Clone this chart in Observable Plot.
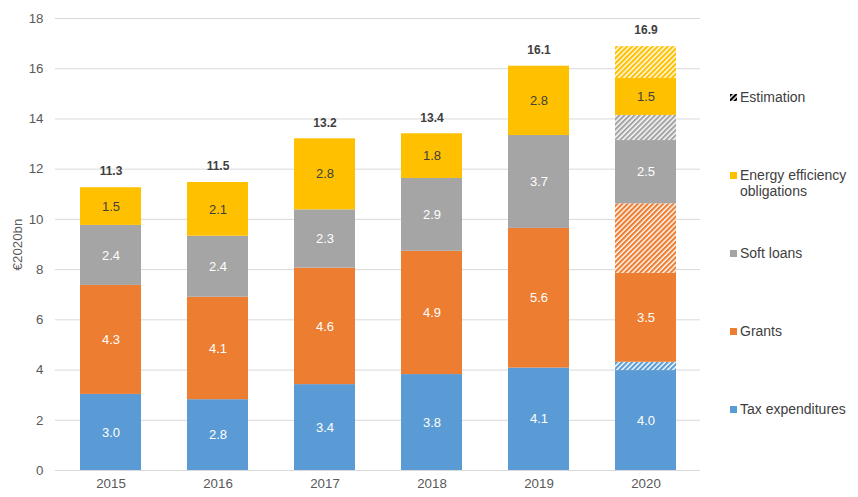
<!DOCTYPE html>
<html>
<head>
<meta charset="utf-8">
<script src="https://cdn.jsdelivr.net/npm/d3@7"></script>
<script src="https://cdn.jsdelivr.net/npm/@observablehq/plot@0.6"></script>
<style>
  html, body { margin: 0; padding: 0; background: #fff; }
  body { width: 858px; height: 497px; position: relative; font-family: "Liberation Sans", Arial, sans-serif; overflow: hidden; }
  #chart { position: absolute; left: 0; top: 0; }
  .legend { position: absolute; left: 730px; top: 0; font-size: 14px; color: #404040; line-height: 16px; }
  .legend .item { position: absolute; left: 0; white-space: nowrap; }
  .legend .sw { position: absolute; left: 0; top: 5px; width: 7px; height: 7px; }
  .legend .lbl { position: absolute; left: 10px; top: 0; }
</style>
</head>
<body>
<div id="chart"></div>
<div class="legend" id="legend"></div>
<script>
// ---- data (€2020bn) ----
const years = ["2015", "2016", "2017", "2018", "2019", "2020"];
const taxExpenditures = [3.03, 2.82, 3.42, 3.82, 4.08, 3.98];
const taxEstimation   = [0, 0, 0, 0, 0, 0.33];
const grants          = [4.34, 4.08, 4.64, 4.91, 5.56, 3.54];
const grantsEstimation= [0, 0, 0, 0, 0, 2.77];
const softLoans       = [2.39, 2.43, 2.32, 2.90, 3.70, 2.52];
const softEstimation  = [0, 0, 0, 0, 0, 1.00];
const eeo             = [1.50, 2.14, 2.83, 1.78, 2.76, 1.47];
const eeoEstimation   = [0, 0, 0, 0, 0, 1.27];
const totals          = [11.3, 11.5, 13.2, 13.4, 16.1, 16.9];
const yTicks = [0, 2, 4, 6, 8, 10, 12, 14, 16, 18];

const seriesDefs = [
  {key: "tax",        values: taxExpenditures,  est: false, color: "#5B9BD5", textColor: "#ffffff"},
  {key: "tax-est",    values: taxEstimation,    est: true,  color: "url(#h-tax)"},
  {key: "grants",     values: grants,           est: false, color: "#ED7D31", textColor: "#ffffff"},
  {key: "grants-est", values: grantsEstimation, est: true,  color: "url(#h-grants)"},
  {key: "soft",       values: softLoans,        est: false, color: "#A5A5A5", textColor: "#ffffff"},
  {key: "soft-est",   values: softEstimation,   est: true,  color: "url(#h-soft)"},
  {key: "eeo",        values: eeo,              est: false, color: "#FFC000", textColor: "#404040"},
  {key: "eeo-est",    values: eeoEstimation,    est: true,  color: "url(#h-eeo)"}
];

const rows = [];
for (const s of seriesDefs) {
  years.forEach((yr, i) => {
    rows.push({year: yr, key: s.key, value: s.values[i], est: s.est, textColor: s.textColor || "#fff"});
  });
}
const totalRows = years.map((yr, i) => ({year: yr, total: totals[i]}));
const order = seriesDefs.map(s => s.key);

const font = '"Liberation Sans", Arial, sans-serif';

const plot = Plot.plot({
  width: 715,
  height: 497,
  marginLeft: 55,
  marginRight: 15,
  marginTop: 18,
  marginBottom: 27,
  style: {fontFamily: font, fontSize: "13px", color: "#595959", background: "transparent"},
  x: {domain: years, paddingInner: 0.43, paddingOuter: 0.215, label: null},
  y: {domain: [0, 18], label: null},
  color: {domain: order, range: seriesDefs.map(s => s.color), type: "ordinal"},
  marks: [
    Plot.gridY(yTicks, {stroke: "#d9d9d9", strokeOpacity: 1}),
    Plot.axisY(yTicks, {tickSize: 0, tickPadding: 12, fill: "#595959", fontSize: 13.3,
      label: "€2020bn", labelAnchor: "center", labelArrow: "none", labelOffset: 43}),
    Plot.axisX({tickSize: 0, tickPadding: 8, fill: "#595959", fontSize: 13.3}),
    Plot.barY(rows.filter(d => d.value > 0), Plot.stackY({
      x: "year", y: "value", fill: "key", order
    })),
    Plot.text(rows.filter(d => d.value > 0), Plot.stackY({
      x: "year", y: "value", z: "key", order,
      text: d => d.est ? null : d.value.toFixed(1),
      fill: d => d.textColor, fontSize: 13
    })),
    Plot.text(totalRows, {
      x: "year", y: "total", text: d => d.total.toFixed(1), dy: -16,
      fill: "#404040", fontWeight: "bold", fontSize: 12
    })
  ]
});

// hatch patterns for the estimation segments
const defs = `
<defs>
  ${[["h-tax", "#5B9BD5"], ["h-grants", "#ED7D31"], ["h-soft", "#A5A5A5"], ["h-eeo", "#FFC000"], ["h-legend", "#000000"]].map(([id, c]) =>
    `<pattern id="${id}" patternUnits="userSpaceOnUse" width="3.6" height="3.6" patternTransform="rotate(45)">
       <rect width="3.6" height="3.6" fill="#ffffff"/>
       <rect width="2.2" height="3.6" fill="${c}"/>
     </pattern>`).join("")}
</defs>`;
plot.insertAdjacentHTML("afterbegin", defs);
document.getElementById("chart").append(plot);

// legend
const legendItems = [
  {label: "Estimation", fill: "url(#h-legend)", top: 89},
  {label: "Energy efficiency<br>obligations", fill: "#FFC000", top: 167},
  {label: "Soft loans", fill: "#A5A5A5", top: 245},
  {label: "Grants", fill: "#ED7D31", top: 323},
  {label: "Tax expenditures", fill: "#5B9BD5", top: 401}
];
const lg = document.getElementById("legend");
for (const it of legendItems) {
  const div = document.createElement("div");
  div.className = "item";
  div.style.top = it.top + "px";
  div.innerHTML = `<svg class="sw" width="7" height="7"><rect width="7" height="7" fill="${it.fill}"/></svg><span class="lbl">${it.label}</span>`;
  lg.append(div);
}
</script>
</body>
</html>
